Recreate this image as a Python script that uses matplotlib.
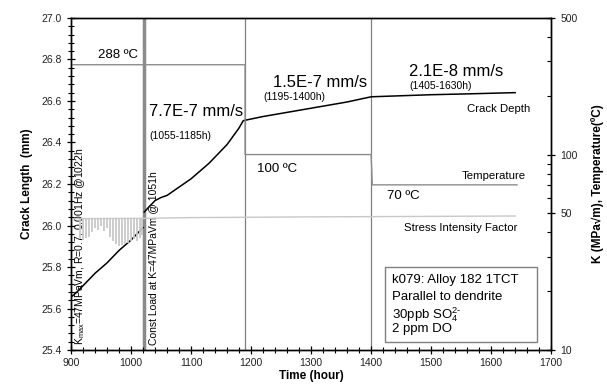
import matplotlib
matplotlib.use("Agg")
import matplotlib.pyplot as plt
from matplotlib.ticker import MultipleLocator, FixedLocator, NullFormatter, LogLocator
from matplotlib.patches import Rectangle

plt.rcParams['font.family'] = ['Liberation Sans', 'DejaVu Sans']
plt.rcParams['mathtext.fontset'] = 'custom'
plt.rcParams['mathtext.rm'] = 'Liberation Sans'
plt.rcParams['mathtext.it'] = 'Liberation Sans'
plt.rcParams['mathtext.default'] = 'regular'

# ---- data ----
crack_t1 = [900, 910, 920, 930, 940, 950, 960, 970, 980, 990, 1000, 1010, 1020]
crack_a1 = [25.655, 25.68, 25.71, 25.74, 25.77, 25.795, 25.82, 25.85, 25.88, 25.905, 25.93, 25.96, 25.99]
crack_t2 = [1022, 1030, 1040, 1050, 1060, 1070, 1080, 1090, 1100, 1110, 1120, 1130, 1140,
            1150, 1160, 1170, 1180, 1187, 1195, 1220, 1250, 1280, 1300, 1330, 1360, 1400,
            1430, 1460, 1500, 1530, 1560, 1600, 1640]
crack_a2 = [26.065, 26.09, 26.12, 26.135, 26.145, 26.165, 26.185, 26.205, 26.225, 26.25, 26.275, 26.30, 26.33,
            26.36, 26.39, 26.43, 26.47, 26.505, 26.51, 26.525, 26.54, 26.555, 26.565, 26.58, 26.595, 26.62,
            26.623, 26.626, 26.63, 26.632, 26.634, 26.637, 26.64]

temp_t = [900, 1190, 1190, 1400, 1402, 1643]
temp_v = [288, 288, 100, 100, 70, 70]

k_t = [900, 1022, 1100, 1300, 1500, 1640]
k_v = [47.0, 47.2, 47.6, 48.0, 48.3, 48.5]

cyc_t = [915, 920, 925, 930, 935, 940, 945, 950, 955, 960, 965, 970, 975, 980,
         985, 990, 995, 1000, 1005, 1010, 1015, 1019]
cyc_kmin = [37, 36.5, 37.5, 38, 40, 42, 41, 43, 40.5, 42, 38, 36, 35, 34,
            34.5, 35, 35.5, 36, 37, 36, 37.5, 39]
kmax = 47

events = [1022, 1190, 1400]

fig = plt.figure(figsize=(6.07, 3.89), dpi=100)
ax = fig.add_axes([0.117, 0.100, 0.791, 0.854])
ax2 = ax.twinx()

ax.set_xlim(900, 1700)
ax.set_ylim(25.4, 27.0)
ax2.set_yscale('log')
ax2.set_ylim(10, 500)

# event lines
ax.vlines(events[0], 25.4, 27.0, color='#8a8a8a', lw=2.5, zorder=1, snap=True)
for e in events[1:]:
    ax.axvline(e, color='#808080', lw=0.9, zorder=1)

# crack depth
ax.plot(crack_t1, crack_a1, color='black', lw=1.1, zorder=5)
ax.plot(crack_t2, crack_a2, color='black', lw=1.1, zorder=5)

# temperature and K
ax2.plot(temp_t, temp_v, color='#8c8c8c', lw=1.0)
ax2.plot(k_t, k_v, color='#c8c8c8', lw=1.0)
ax2.vlines(cyc_t, cyc_kmin, kmax, color='#c8c8c8', lw=1.3)

# ticks
ax.xaxis.set_major_locator(MultipleLocator(100))
ax.xaxis.set_minor_locator(MultipleLocator(20))
ax.yaxis.set_major_locator(MultipleLocator(0.2))
ax.yaxis.set_minor_locator(MultipleLocator(0.04))
ax.yaxis.set_major_formatter(matplotlib.ticker.FormatStrFormatter('%.1f'))
ax.tick_params(axis='both', which='major', direction='inout', length=6, width=0.9,
               labelsize=7.5, labelcolor='#222222', top=False)
ax.tick_params(axis='both', which='minor', direction='inout', length=4, width=0.8, top=False)
ax.tick_params(axis='x', pad=3)

ax2.yaxis.set_major_locator(FixedLocator([10, 50, 100, 500]))
ax2.yaxis.set_major_formatter(matplotlib.ticker.FixedFormatter(['10', '50', '100', '500']))
ax2.yaxis.set_minor_locator(LogLocator(base=10, subs=range(2, 10)))
ax2.yaxis.set_minor_formatter(NullFormatter())
ax2.tick_params(axis='y', which='major', direction='inout', length=6, width=0.9,
                labelsize=7.5, labelcolor='#222222')
ax2.tick_params(axis='y', which='minor', direction='in', length=3, width=0.8)

for a in (ax, ax2):
    for s in a.spines.values():
        s.set_linewidth(1.0)

ax.set_xlabel('Time (hour)', fontsize=8.5, fontweight='bold', labelpad=1)
ax.set_ylabel('Crack Length  (mm)', fontsize=8.5, fontweight='bold', labelpad=6)
ax2.set_ylabel('K (MPa\u221am), Temperature(\u00baC)', fontsize=8.5, fontweight='bold', labelpad=10)

# annotations
ax.text(945, 26.82, '288 \u00baC', fontsize=9.5, va='center', ha='left')
ax.text(1030, 26.55, '7.7E-7 mm/s', fontsize=12, va='center', ha='left')
ax.text(1031, 26.43, '(1055-1185h)', fontsize=7.5, va='center', ha='left')
ax.text(1237, 26.69, '1.5E-7 mm/s', fontsize=12, va='center', ha='left')
ax.text(1220, 26.62, '(1195-1400h)', fontsize=7.5, va='center', ha='left')
ax.text(1463, 26.74, '2.1E-8 mm/s', fontsize=12, va='center', ha='left')
ax.text(1463, 26.67, '(1405-1630h)', fontsize=7.5, va='center', ha='left')
ax.text(1665, 26.56, 'Crack Depth', fontsize=8.2, va='center', ha='right')
ax.text(1210, 26.27, '100 \u00baC', fontsize=9.5, va='center', ha='left')
ax.text(1658, 26.24, 'Temperature', fontsize=8.2, va='center', ha='right')
ax.text(1427, 26.14, '70 \u00baC', fontsize=9.5, va='center', ha='left')
ax.text(1643, 25.99, 'Stress Intensity Factor', fontsize=8.2, va='center', ha='right')

ax.text(915, 25.425, r'K$_{max}$=47MPaVm, R=0.7, 0.001Hz @1022h', fontsize=7.5,
        rotation=90, va='bottom', ha='center')
ax.text(1037, 25.425, 'Const Load at K=47MPaVm @ 1051h', fontsize=7.5,
        rotation=90, va='bottom', ha='center')

ax.add_patch(Rectangle((0.654, 0.024), 0.317, 0.226, transform=ax.transAxes,
                       fill=True, facecolor='white', edgecolor='#808080', lw=1.0, zorder=6))
box_lines = ['k079: Alloy 182 1TCT', 'Parallel to dendrite',
             '30ppb SO$_4^{2\u2010}$', '2 ppm DO']
box_y = [0.211, 0.160, 0.108, 0.063]
for t, yy in zip(box_lines, box_y):
    ax.text(0.669, yy, t, transform=ax.transAxes, fontsize=9.5, va='center', ha='left', zorder=7)

fig.savefig('out.png', dpi=100)
